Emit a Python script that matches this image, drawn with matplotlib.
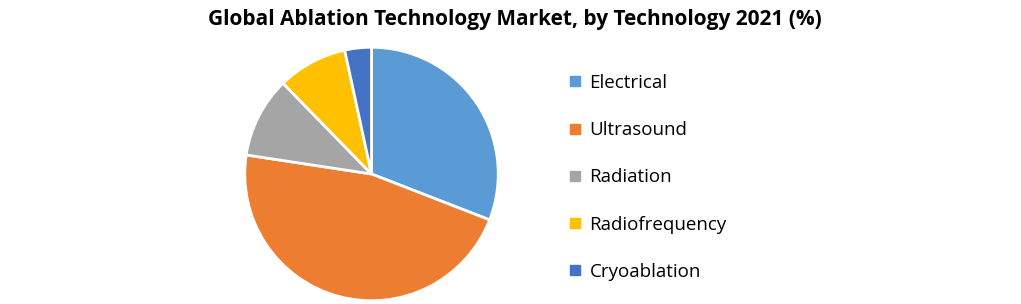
import matplotlib.pyplot as plt
from matplotlib.lines import Line2D

# data
labels = ["Electrical", "Ultrasound", "Radiation", "Radiofrequency", "Cryoablation"]
shares = [30.9, 46.5, 10.3, 8.9, 3.4]
colors = ["#5B9BD5", "#ED7D31", "#A5A5A5", "#FFC000", "#4472C4"]

W, H = 1021, 304
fig = plt.figure(figsize=(W / 100, H / 100), dpi=100)

# pie axes, centre ~(371, 174) px, radius ~127 px
cx, cy, r = 371.5, 174, 128
ax = fig.add_axes([(cx - r) / W, (H - cy - r) / H, 2 * r / W, 2 * r / H])
ax.pie(shares, colors=colors, startangle=90, counterclock=False,
       wedgeprops=dict(edgecolor="white", linewidth=2))
ax.set_xlim(-1.01, 1.01)
ax.set_ylim(-1.01, 1.01)

fig.text(515 / W, 1 - 19 / H, "Global Ablation Technology Market, by Technology 2021 (%)",
         ha="center", va="center", fontsize=15, fontweight="bold",
         family="Open Sans")

handles = [Line2D([], [], marker="s", linestyle="", markersize=7.5, color=c) for c in colors]
leg = fig.legend(handles, labels, loc="upper left",
                 bbox_to_anchor=(566 / W, 1 - 74 / H), frameon=False,
                 prop=dict(family="Open Sans", size=13.5),
                 labelspacing=1.56, handletextpad=0.25, handlelength=1.0,
                 borderpad=0, borderaxespad=0)

fig.savefig("out.png", dpi=100)
